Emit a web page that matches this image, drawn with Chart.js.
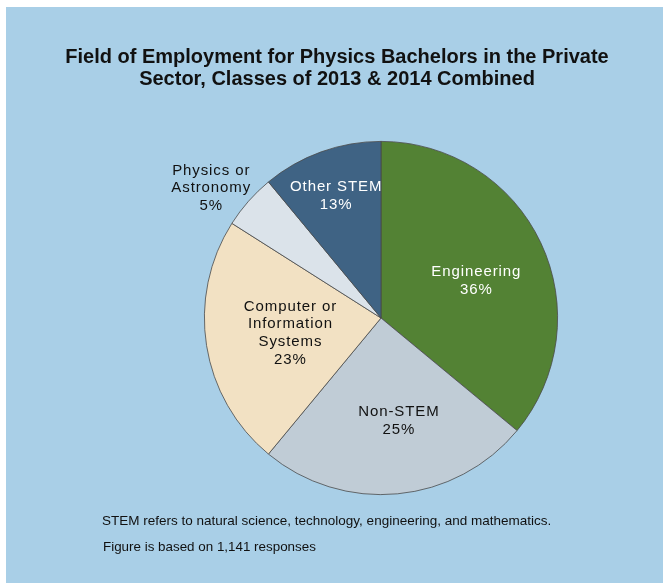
<!DOCTYPE html>
<html>
<head>
<meta charset="utf-8">
<script src="https://cdn.jsdelivr.net/npm/chart.js@4"></script>
<style>
    html, body { margin: 0; padding: 0; background: #ffffff; }
    #wrap { position: absolute; left: 6px; top: 7px; width: 657px; height: 576px; background: #a9cfe7; }
</style>
</head>
<body>
<div id="wrap"><canvas id="myChart" width="657" height="576"></canvas></div>
<script>
var fieldLabels = [
    ['Engineering'],
    ['Non-STEM'],
    ['Computer or', 'Information', 'Systems'],
    ['Physics or', 'Astronomy'],
    ['Other STEM']
];
// slice sizes as drawn in the picture (percent of the circle)
var fieldShares = [36, 25, 23, 5, 11];
// percentages as printed on the slices
var shareText = ['36%', '25%', '23%', '5%', '13%'];
var titleLines = [
    'Field of Employment for Physics Bachelors in the Private',
    'Sector, Classes of 2013 & 2014 Combined'
];
var noteLines = [
    'STEM refers to natural science, technology, engineering, and mathematics.',
    'Figure is based on 1,141 responses'
];

var sliceColors = ['#538234', '#c0ccd6', '#f2e1c3', '#dbe3ea', '#3f6384'];
var labelColors = ['#ffffff', '#111111', '#111111', '#111111', '#ffffff'];
// label placement: distance from centre (share of radius) and turn from slice middle (degrees)
var labelDist = [0.58, 0.59, 0.52, 1.21, 0.735];
var labelTurn = [3.7, -4.5, -0.5, -4, -0.4];

var sliceLabels = {
    id: 'sliceLabels',
    afterDatasetsDraw: function (chart) {
        var ctx = chart.ctx;
        var meta = chart.getDatasetMeta(0);
        ctx.save();
        ctx.font = '15px "Liberation Sans", Arial, sans-serif';
        ctx.letterSpacing = '0.9px';
        ctx.textAlign = 'center';
        ctx.textBaseline = 'middle';
        meta.data.forEach(function (arc, i) {
            var mid = (arc.startAngle + arc.endAngle) / 2 + labelTurn[i] * Math.PI / 180;
            var r = arc.outerRadius * labelDist[i];
            var x = arc.x + Math.cos(mid) * r;
            var y = arc.y + Math.sin(mid) * r;
            var lines = fieldLabels[i].concat([shareText[i]]);
            var lh = 17.8;
            var y0 = y - (lines.length - 1) * lh / 2;
            ctx.fillStyle = labelColors[i];
            lines.forEach(function (t, k) {
                ctx.fillText(t, x, y0 + k * lh);
            });
        });
        ctx.restore();
    }
};

var textBlocks = {
    id: 'textBlocks',
    afterDraw: function (chart) {
        var ctx = chart.ctx;
        ctx.save();
        ctx.fillStyle = '#111111';
        ctx.textBaseline = 'middle';
        ctx.textAlign = 'center';
        ctx.font = 'bold 20px "Liberation Sans", Arial, sans-serif';
        ctx.fillText(titleLines[0], 331, 50);
        ctx.fillText(titleLines[1], 331, 72.5);
        ctx.textAlign = 'left';
        ctx.font = '13.5px "Liberation Sans", Arial, sans-serif';
        ctx.fillText(noteLines[0], 96, 514.5);
        ctx.font = '13.4px "Liberation Sans", Arial, sans-serif';
        ctx.fillText(noteLines[1], 97, 540);
        ctx.restore();
    }
};

var ctx = document.getElementById('myChart').getContext('2d');
var myChart = new Chart(ctx, {
    type: 'pie',
    data: {
        labels: fieldLabels.map(function (l) { return l.join(' '); }),
        datasets: [{
            data: fieldShares,
            backgroundColor: sliceColors,
            borderColor: '#4a4a4a',
            borderWidth: 0.8
        }]
    },
    options: {
        responsive: false,
        animation: false,
        layout: {
            padding: { left: 198, right: 105, top: 134, bottom: 88 }
        },
        plugins: {
            legend: { display: false },
            tooltip: { enabled: false }
        }
    },
    plugins: [sliceLabels, textBlocks]
});
</script>
</body>
</html>
